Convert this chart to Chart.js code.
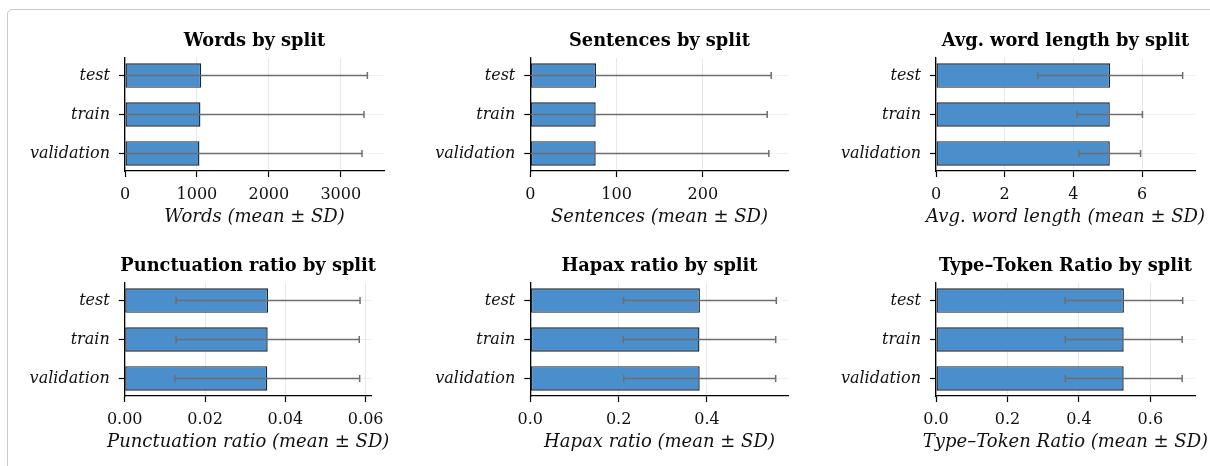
<!DOCTYPE html>
<html>
<head>
<meta charset="utf-8">
<script src="https://cdn.jsdelivr.net/npm/chart.js@4.4.1/dist/chart.umd.min.js"></script>
<style>
  html, body { margin: 0; padding: 0; background: #fff; width: 1210px; height: 466px; overflow: hidden; }
  .card { position: absolute; left: 7px; top: 9px; width: 1230px; height: 480px; border: 1.5px solid #c8c8c8; border-radius: 5px; box-sizing: border-box; }
  canvas { position: absolute; }
</style>
</head>
<body>
<div class="card"></div>
<canvas id="c0"></canvas>
<canvas id="c1"></canvas>
<canvas id="c2"></canvas>
<canvas id="c3"></canvas>
<canvas id="c4"></canvas>
<canvas id="c5"></canvas>
<script>
// Text statistics per corpus split: mean and standard deviation
const splits = ['test', 'train', 'validation'];

const wordsMean = [1060, 1049, 1035];
const wordsSD = [2310, 2274, 2260];

const sentencesMean = [76.2, 75.8, 75.8];
const sentencesSD = [203.0, 198.8, 200.7];

const wordLenMean = [5.07, 5.06, 5.06];
const wordLenSD = [2.11, 0.95, 0.895];

const punctMean = [0.0357, 0.0356, 0.0355];
const punctSD = [0.0229, 0.0228, 0.0230];

const hapaxMean = [0.384, 0.383, 0.3835];
const hapaxSD = [0.173, 0.1726, 0.172];

const ttrMean = [0.526, 0.5254, 0.5254];
const ttrSD = [0.1645, 0.1637, 0.1637];

// x-axis tick values for each panel
const wordsTicks = [0, 1000, 2000, 3000];
const sentencesTicks = [0, 100, 200];
const wordLenTicks = [0, 2, 4, 6];
const punctTicks = [0, 0.02, 0.04, 0.06];
const hapaxTicks = [0, 0.2, 0.4];
const ttrTicks = [0, 0.2, 0.4, 0.6];

const titles = ['Words by split', 'Sentences by split', 'Avg. word length by split',
                'Punctuation ratio by split', 'Hapax ratio by split', 'Type–Token Ratio by split'];
const axisTitles = ['Words (mean ± SD)', 'Sentences (mean ± SD)', 'Avg. word length (mean ± SD)',
                    'Punctuation ratio (mean ± SD)', 'Hapax ratio (mean ± SD)', 'Type–Token Ratio (mean ± SD)'];
const axisMax = [3601, 299.5, 7.54, 0.0615, 0.585, 0.725];
const tickDecimals = [0, 0, 0, 2, 1, 1];

const means = [wordsMean, sentencesMean, wordLenMean, punctMean, hapaxMean, ttrMean];
const sds = [wordsSD, sentencesSD, wordLenSD, punctSD, hapaxSD, ttrSD];
const xTicks = [wordsTicks, sentencesTicks, wordLenTicks, punctTicks, hapaxTicks, ttrTicks];

// Panel geometry (page pixels): canvas box and plot-area edges
const panels = [
  { left: 10,  top: 20,  width: 390, plotL: 125,   plotR: 384 },
  { left: 410, top: 20,  width: 400, plotL: 530.3, plotR: 788.7 },
  { left: 815, top: 20,  width: 395, plotL: 936,   plotR: 1195 },
  { left: 0,   top: 245, width: 400, plotL: 124.7, plotR: 371.7 },
  { left: 410, top: 245, width: 400, plotL: 530.3, plotR: 788.7 },
  { left: 815, top: 245, width: 395, plotL: 936,   plotR: 1195 }
];
const CANVAS_H = 220;
const PLOT_TOP = 38;      // relative to canvas top
const PLOT_BOTTOM = 151;  // relative to canvas top

const SERIF = "'DejaVu Serif', serif";
const BAR_COLOR = '#4a8fcc';
const TEXT = '#111';

// Horizontal error bars (mean ± SD), clipped to the visible x range
const errorBars = {
  id: 'errorBars',
  afterDatasetsDraw(chart, args, opts) {
    const { ctx, chartArea } = chart;
    const xs = chart.scales.x, ys = chart.scales.y;
    const pts = chart.data.datasets[0].data;
    ctx.save();
    ctx.beginPath();
    ctx.rect(chartArea.left, chartArea.top - 10, chartArea.right - chartArea.left + 10, chartArea.bottom - chartArea.top + 20);
    ctx.clip();
    ctx.strokeStyle = opts.color;
    ctx.lineWidth = opts.width;
    pts.forEach((p, i) => {
      const lo = p.x - opts.sd[i], hi = p.x + opts.sd[i];
      const py = ys.getPixelForValue(p.y);
      const x0 = xs.getPixelForValue(Math.max(lo, xs.min));
      const x1 = xs.getPixelForValue(Math.min(hi, xs.max));
      ctx.beginPath();
      ctx.moveTo(x0, py); ctx.lineTo(x1, py);
      if (lo >= xs.min) { ctx.moveTo(x0, py - opts.cap); ctx.lineTo(x0, py + opts.cap); }
      if (hi <= xs.max) { ctx.moveTo(x1, py - opts.cap); ctx.lineTo(x1, py + opts.cap); }
      ctx.stroke();
    });
    ctx.restore();
  }
};

// Panel heading and x-axis caption, centred on the plot area at natural width
const captions = {
  id: 'captions',
  afterDraw(chart, args, opts) {
    const { ctx, chartArea } = chart;
    const cx = (chartArea.left + chartArea.right) / 2;
    ctx.save();
    ctx.textAlign = 'center';
    ctx.textBaseline = 'middle';
    ctx.fillStyle = '#000';
    ctx.font = `bold ${opts.titleSize}px ${SERIF}`;
    ctx.fillText(opts.title, cx, chartArea.top - opts.titleGap);
    ctx.fillStyle = TEXT;
    ctx.font = `italic ${opts.labelSize}px ${SERIF}`;
    ctx.fillText(opts.label, cx, chartArea.bottom + opts.labelGap);
    ctx.restore();
  }
};

function buildPanel(k) {
  const g = panels[k];
  const cv = document.getElementById('c' + k);
  cv.width = g.width; cv.height = CANVAS_H;
  cv.style.left = g.left + 'px'; cv.style.top = g.top + 'px';
  cv.style.width = g.width + 'px'; cv.style.height = CANVAS_H + 'px';

  const yAxisWidth = g.plotL - g.left;
  const rightPad = g.left + g.width - g.plotR;
  const xAxisHeight = CANVAS_H - PLOT_BOTTOM;

  const data = means[k].map((v, i) => ({ x: v, y: i }));

  return new Chart(cv, {
    type: 'bar',
    data: {
      datasets: [{
        data,
        backgroundColor: BAR_COLOR,
        borderColor: '#1b2530',
        borderWidth: 1.4,
        borderSkipped: false,
        categoryPercentage: 1,
        barPercentage: 0.63
      }]
    },
    options: {
      indexAxis: 'y',
      responsive: false,
      animation: false,
      devicePixelRatio: 1,
      layout: { padding: { left: 0, right: rightPad, top: PLOT_TOP, bottom: 0 } },
      plugins: {
        legend: { display: false },
        tooltip: { enabled: false },
        title: { display: false },
        errorBars: { sd: sds[k], color: '#6e6e6e', width: 1.5, cap: 3.5 },
        captions: { title: titles[k], label: axisTitles[k], titleSize: 17.8, titleGap: 17, labelSize: 18, labelGap: 46 }
      },
      scales: {
        x: {
          type: 'linear',
          min: 0,
          max: axisMax[k],
          z: 1,
          afterFit(s) { s.height = xAxisHeight; },
          afterBuildTicks(s) { s.ticks = xTicks[k].map(v => ({ value: v })); },
          grid: { color: 'rgba(150,150,150,0.22)', lineWidth: 1, tickColor: '#000', tickLength: 6, tickWidth: 1.2 },
          border: { display: true, color: '#000', width: 1.3 },
          ticks: {
            padding: 8.5,
            color: TEXT,
            font: { family: SERIF, size: 16 },
            callback: v => Number(v).toFixed(tickDecimals[k])
          },
          title: { display: false }
        },
        y: {
          type: 'linear',
          reverse: true,
          offset: false,
          min: -0.45,
          max: 2.45,
          z: 1,
          afterFit(s) { s.width = yAxisWidth; },
          afterBuildTicks(s) { s.ticks = splits.map((_, i) => ({ value: i })); },
          grid: { offset: false, color: 'rgba(150,150,150,0.14)', lineWidth: 1, tickColor: '#000', tickLength: 6, tickWidth: 1.2 },
          border: { display: true, color: '#000', width: 1.3 },
          ticks: {
            padding: 9,
            color: TEXT,
            font: { family: SERIF, size: 16, style: 'italic' },
            callback: v => splits[v]
          }
        }
      }
    },
    plugins: [errorBars, captions]
  });
}

for (let k = 0; k < 6; k++) buildPanel(k);
</script>
</body>
</html>
